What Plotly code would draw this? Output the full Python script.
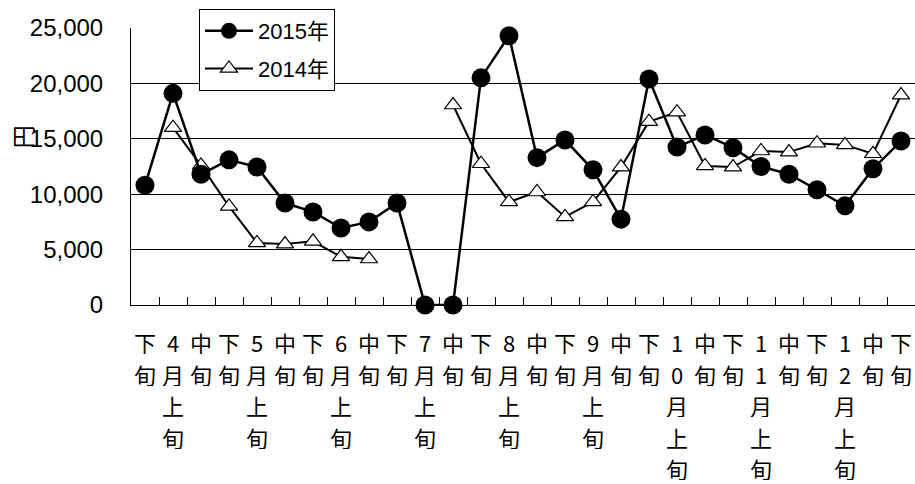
import plotly.graph_objects as go

categories = ["3月下旬", "4月上旬", "4月中旬", "4月下旬", "5月上旬", "5月中旬", "5月下旬",
              "6月上旬", "6月中旬", "6月下旬", "7月上旬", "7月中旬", "7月下旬",
              "8月上旬", "8月中旬", "8月下旬", "9月上旬", "9月中旬", "9月下旬",
              "10月上旬", "10月中旬", "10月下旬", "11月上旬", "11月中旬", "11月下旬",
              "12月上旬", "12月中旬", "12月下旬"]
tick_labels = ["下旬", "4月上旬", "中旬", "下旬", "5月上旬", "中旬", "下旬",
               "6月上旬", "中旬", "下旬", "7月上旬", "中旬", "下旬",
               "8月上旬", "中旬", "下旬", "9月上旬", "中旬", "下旬",
               "10月上旬", "中旬", "下旬", "11月上旬", "中旬", "下旬",
               "12月上旬", "中旬", "下旬"]
values_2015 = [10800, 19100, 11800, 13100, 12450, 9200, 8400, 6950, 7500, 9200, 0, 0,
               20500, 24300, 13300, 14900, 12200, 7750, 20400, 14250, 15350, 14200,
               12500, 11800, 10400, 8950, 12300, 14800]
values_2014 = [None, 16000, 12600, 8900, 5600, 5500, 5750, 4350, 4150, None, None, 18050,
               12750, 9300, 10200, 7950, 9300, 12450, 16550, 17400, 12550, 12450,
               13900, 13800, 14600, 14450, 13650, 18950]
y_ticks = [0, 5000, 10000, 15000, 20000, 25000]
y_tick_labels = ["0", "5,000", "10,000", "15,000", "20,000", "25,000"]

latin = "Liberation Sans, Arial, Noto Sans CJK JP"
cjk = "Noto Sans CJK JP, Liberation Sans"

fig = go.Figure()
fig.add_trace(go.Scatter(
    x=categories, y=values_2014, name="2014年", mode="lines+markers",
    line=dict(color="black", width=2),
    marker=dict(symbol="triangle-up", size=15, color="white",
                line=dict(color="black", width=1.2)),
    legendgroup="b", legendrank=2, cliponaxis=False, connectgaps=False))
fig.add_trace(go.Scatter(
    x=categories, y=values_2015, name="2015年", mode="lines+markers",
    line=dict(color="black", width=2.5),
    marker=dict(symbol="circle", size=19, color="black"),
    legendgroup="a", legendrank=1, cliponaxis=False))

annotations = []
for cat, lab in zip(categories, tick_labels):
    for r, ch in enumerate(lab):
        annotations.append(dict(
            x=cat, xref="x", y=0, yref="paper", yanchor="middle", xanchor="center",
            yshift=-37 - 31.5 * r, text=ch, showarrow=False, height=24,
            font=dict(family=cjk, size=22, color="black")))
annotations.append(dict(
    x=-0.139, xref="paper", y=0.606, yref="paper", text="円", showarrow=False,
    xanchor="center", yanchor="middle",
    textangle=-90, font=dict(family=cjk, size=23, color="black")))

fig.update_layout(
    width=915, height=484,
    margin=dict(l=131, r=0, t=28, b=179),
    paper_bgcolor="white", plot_bgcolor="white",
    showlegend=True,
    legend=dict(x=0.0867, y=1.0686, xanchor="left", yanchor="top",
                bgcolor="white", bordercolor="black", borderwidth=1,
                font=dict(family=latin, size=22, color="black"),
                traceorder="grouped", tracegroupgap=6, itemwidth=48),
    xaxis=dict(type="category", showgrid=False, showline=True, linecolor="black",
               linewidth=1, ticks="inside", tickson="boundaries", ticklen=8,
               tickcolor="black", showticklabels=False, range=[-0.5, 27.5]),
    yaxis=dict(range=[0, 25000], tickvals=y_ticks, ticktext=y_tick_labels,
               showgrid=True, gridcolor="black", gridwidth=1, showline=True,
               linecolor="black", linewidth=1, zeroline=False, ticks="",
               ticklabelstandoff=22,
               tickfont=dict(family=latin, size=24, color="black")),
    annotations=annotations,
)
fig.write_html("out.html", post_script="document.body.style.margin='0';",
               config={"displayModeBar": False})
